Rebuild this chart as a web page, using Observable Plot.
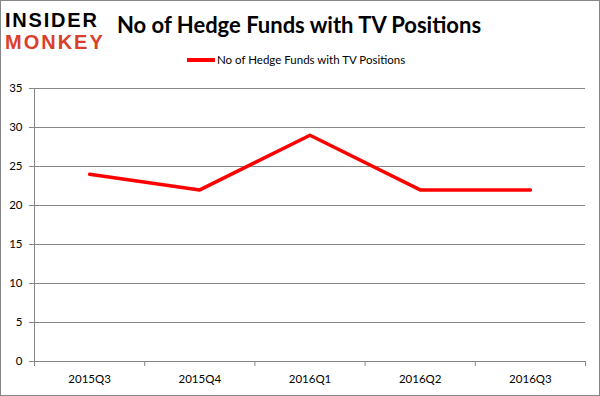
<!DOCTYPE html>
<html><head><meta charset="utf-8">
<script src="https://cdn.jsdelivr.net/npm/d3@7"></script>
<script src="https://cdn.jsdelivr.net/npm/@observablehq/plot@0.6"></script>
<style>
body{margin:0;background:#fff;}
#wrap{position:relative;width:600px;height:396px;overflow:hidden;background:#fff;}
#frame{position:absolute;left:0;top:0;width:600px;height:396px;box-sizing:border-box;border:1px solid #868686;pointer-events:none;}
#plot{position:absolute;left:0;top:0;}
#title{position:absolute;left:117px;top:12px;font-family:Lato,sans-serif;font-weight:bold;font-size:22px;line-height:26px;color:#000;white-space:nowrap;}
#legend{position:absolute;left:187px;top:53px;font-family:Lato,sans-serif;font-size:11.5px;color:#000;white-space:nowrap;display:flex;align-items:center;}
#legend .sw{display:inline-block;width:28px;height:4px;background:#ff0000;margin-right:2px;}
.logo{position:absolute;left:5px;font-family:"Liberation Sans",Arial,sans-serif;font-weight:bold;white-space:nowrap;font-size:20px;line-height:22px;}
#logo1{top:8.5px;color:#000;letter-spacing:1.8px;}
#logo2{top:31.2px;color:#d9402b;letter-spacing:2px;}
</style>
</head><body>
<div id="wrap">
  <div id="plot"></div>
  <div class="logo" id="logo1">INSIDER</div>
  <div class="logo" id="logo2">MONKEY</div>
  <div id="title"></div>
  <div id="legend"><span class="sw"></span><span id="legtext"></span></div>
  <div id="frame"></div>
</div>
<script>
const quarters = ["2015Q3", "2015Q4", "2016Q1", "2016Q2", "2016Q3"];
const funds = [24, 22, 29, 22, 22];
const yTicks = [0, 5, 10, 15, 20, 25, 30, 35];
const seriesName = "No of Hedge Funds with TV Positions";
const chartTitle = "No of Hedge Funds with TV Positions";

document.getElementById("title").textContent = chartTitle;
document.getElementById("legtext").textContent = seriesName;

const data = quarters.map((q, i) => ({i, q, v: funds[i]}));
const idx = d3.range(quarters.length);
const bounds = d3.range(quarters.length + 1).map(i => i - 0.5);

const chart = Plot.plot({
  width: 600,
  height: 396,
  marginLeft: 34,
  marginRight: 15,
  marginTop: 88,
  marginBottom: 35,
  style: {fontFamily: "Lato, sans-serif", fontSize: "11.5px", color: "#000", background: "transparent"},
  x: {domain: [-0.5, quarters.length - 0.5], axis: null},
  y: {domain: [0, d3.max(yTicks)], axis: null},
  marks: [
    Plot.gridY(yTicks, {stroke: "#868686", strokeOpacity: 1}),
    Plot.ruleX([-0.5], {stroke: "#868686"}),
    Plot.axisY(yTicks, {tickSize: 5, tickPadding: 7, stroke: "#868686", fill: "#000", label: null}),
    Plot.axisX(bounds, {tickSize: 5, tickFormat: () => "", stroke: "#868686", label: null}),
    Plot.axisX(idx, {tickSize: 0, tickPadding: 13, tickFormat: i => quarters[i], fill: "#000", label: null}),
    Plot.line(data, {x: "i", y: "v", stroke: "#ff0000", strokeWidth: 3.5})
  ]
});
document.getElementById("plot").appendChild(chart);
</script>
</body></html>
